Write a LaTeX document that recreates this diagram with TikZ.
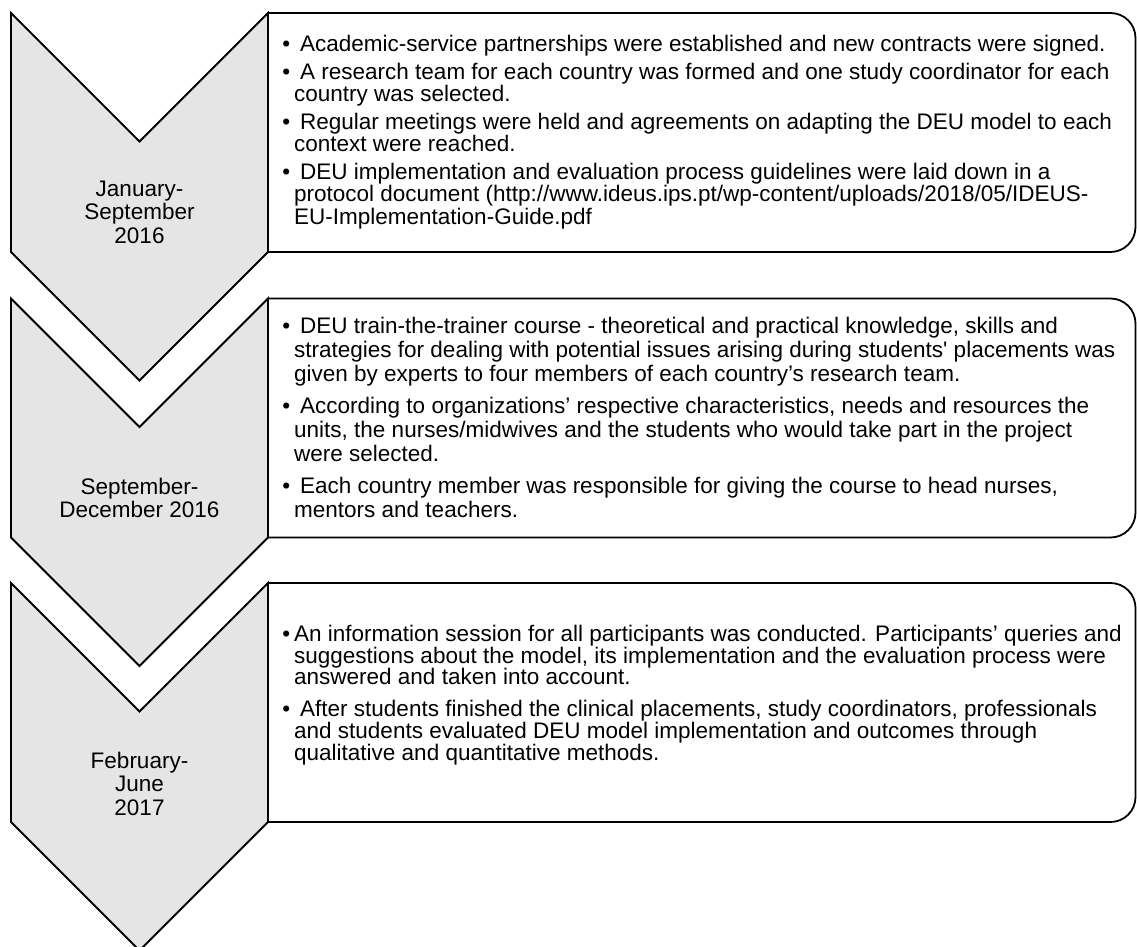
\documentclass[tikz,border=0pt]{standalone}
\usepackage{fontspec}
\setmainfont{Liberation Sans}
\tikzset{every chevron/.style={draw, line width=1.8pt, fill=black!10},
  date label/.style={align=center, inner sep=0pt, font=\fontsize{22.5}{23.5}\selectfont},
  step list/.style={align=left, anchor=west, inner sep=0pt}}
\newcommand\itm{\llap{\textbullet\hspace{4pt}}}

\begin{document}
\begin{tikzpicture}[x=1pt, y=-1pt] % pixel grid, y down
\useasboundingbox (0,0) rectangle (1137,947);
\pgfmathsetmacro\H{239}
\pgfmathsetmacro\D{128.5}

\foreach \t in {13, 298.5, 583}
{
    \draw[every chevron] (11,\t) -- (139.5,\t+\D) -- (268,\t) -- (268,\t+\H) -- (139.5,\t+\H+\D) -- (11,\t+\H) -- cycle;
    \draw[line width=1.8pt, rounded corners=25pt] (268,\t) -- (1135.5,\t) -- (1135.5,\t+\H) -- (268,\t+\H);
}

\node[date label] (date1) at (139.5,212) {January-\\September\\2016};
\node[date label] (date2) at (139.5,498) {September-\\December 2016};
\node[date label] (date3) at (139.5,783.5) {February-\\June\\2017};

\node[step list, font=\fontsize{22.5}{22.7}\selectfont] (list1) at (294,132.5) {%
\itm\hspace{6pt}Academic-service partnerships were established and new contracts were signed.\\[4.6pt]
\itm\hspace{6pt}A research team for each country was formed and one study coordinator for each\\
country was selected.\\[4.6pt]
\itm\hspace{6pt}Regular meetings were held and agreements on adapting the DEU model to each\\
context were reached.\\[4.6pt]
\itm\hspace{6pt}DEU implementation and evaluation process guidelines were laid down in a\\
protocol document (http://www.ideus.ips.pt/wp-content/uploads/2018/05/IDEUS-\\
EU-Implementation-Guide.pdf};

\node[step list, font=\fontsize{22.5}{24}\selectfont] (list2) at (294,417.6) {%
\itm\hspace{6pt}DEU train-the-trainer course - theoretical and practical knowledge, skills and\\
strategies for dealing with potential issues arising during students\textquotesingle\ placements was\\
given by experts to four members of each country’s research team.\\[8pt]
\itm\hspace{6pt}According to organizations’ respective characteristics, needs and resources the\\
units, the nurses/midwives and the students who would take part in the project\\
were selected.\\[8pt]
\itm\hspace{6pt}Each country member was responsible for giving the course to head nurses,\\
mentors and teachers.};

\node[step list, font=\fontsize{22.5}{21.7}\selectfont] (list3) at (294,695) {%
\itm An information session for all participants was conducted. Participants’ queries and\\
suggestions about the model, its implementation and the evaluation process were\\
answered and taken into account.\\[10pt]
\itm\hspace{6pt}After students finished the clinical placements, study coordinators, professionals\\
and students evaluated DEU model implementation and outcomes through\\
qualitative and quantitative methods.};
\end{tikzpicture}
\end{document}
